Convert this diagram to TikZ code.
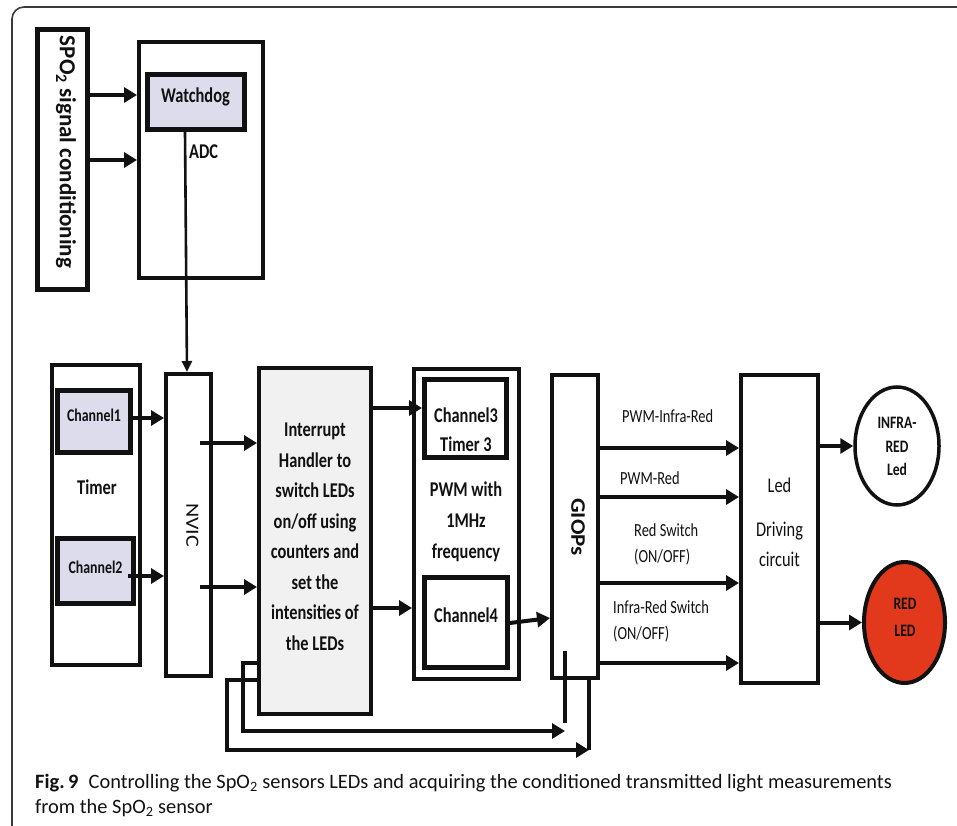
\documentclass[tikz,border=0pt]{standalone}
\usepackage{fontspec}
\setmainfont{Carlito}
\newfontfamily\dfont[FakeStretch=0.78]{Carlito}
\newfontfamily\rfont{Carlito}
\usetikzlibrary{arrows.meta,calc,shapes.geometric}
\definecolor{chanfill}{HTML}{DCDCEC}
\definecolor{handfill}{HTML}{F1F1F1}
\definecolor{ledred}{HTML}{E2391D}
\definecolor{framegray}{HTML}{3A3A3A}
\definecolor{ink}{HTML}{111111}

\begin{document}
\begin{tikzpicture}[x=1pt,y=-1pt,
  box/.style={draw=ink, line width=4pt, inner sep=0pt},
  heavy/.style={box, line width=5pt},
  arr/.style={draw=ink, line width=4pt, -{Triangle[length=13pt,width=15pt]}},
  thinarr/.style={draw=ink, line width=2.6pt, -{Triangle[length=11pt,width=10pt]}},
  wire/.style={draw=ink, line width=4pt},
  txt/.style={inner sep=0pt, text=ink},
  tb/.style={txt, font=\dfont\bfseries\fontsize{21}{30.5}\selectfont},
  tbs/.style={txt, font=\dfont\bfseries\fontsize{17.8}{24}\selectfont},
  tbled/.style={txt, font=\dfont\bfseries\fontsize{17.5}{23.5}\selectfont},
  tr/.style={txt, font=\dfont\fontsize{18.5}{26}\selectfont},
  trl/.style={txt, font=\dfont\fontsize{21}{30}\selectfont},
  rot/.style={txt, rotate=-90},
  captext/.style={inner sep=0pt, text=ink, font=\rfont\fontsize{20.4}{25}\selectfont}
]
\useasboundingbox (0,0) rectangle (957,826);

% outer frame of the figure panel
\draw[framegray, line width=1.6pt, rounded corners=12pt] (975,7) -- (12,7) -- (12,845);

% ---------- boxes ----------
\node[heavy, minimum width=50, minimum height=260] (spo) at (62.5,159.5) {};
\node[box, minimum width=124, minimum height=236] (adc) at (201,160) {};
\node[heavy, fill=chanfill, minimum width=97, minimum height=55] (wd) at (196,102) {};

\node[box, minimum width=88, minimum height=300] (timer) at (96,515) {};
\node[heavy, fill=chanfill, minimum width=73, minimum height=62] (ch1) at (94,421.5) {};
\node[heavy, fill=chanfill, minimum width=76, minimum height=65] (ch2) at (95.5,571) {};

\node[box, minimum width=45, minimum height=302] (nvic) at (188.5,525) {};
\node[box, fill=handfill, minimum width=112, minimum height=346] (ih) at (315,541) {};

\node[box, minimum width=105, minimum height=310] (pwm) at (466.5,524) {};
\node[heavy, minimum width=82, minimum height=78] (ch3) at (465.5,418.5) {};
\node[heavy, minimum width=83, minimum height=90] (ch4) at (466,622.5) {};

\node[box, minimum width=46, minimum height=303] (giops) at (575,526.5) {};
\node[box, minimum width=77, minimum height=308] (led) at (779.5,529) {};

\node[box, ellipse, line width=3.5pt, minimum width=84, minimum height=118] (ir) at (897,446) {};
\node[box, ellipse, line width=4pt, fill=ledred, minimum width=81, minimum height=121] (red) at (904.5,622.5) {};

% ---------- texts ----------
\node[rot, font=\rfont\bfseries\fontsize{23}{28}\selectfont] (spo-t) at (66,152)
  {SPO\textsubscript{2} signal conditioning};
\node[tb, anchor=base] (wd-t) at (195.5,103) {Watchdog};
\node[tb, anchor=base west] (adc-t) at (189,159) {ADC};
\node[tb, anchor=base] (timer-t) at (97,494) {Timer};
\node[tbs, anchor=base] (ch1-t) at (94,421) {Channel1};
\node[tbs, anchor=base] (ch2-t) at (95.5,573) {Channel2};
\node[rot, font=\rfont\fontsize{22}{26}\selectfont] (nvic-t) at (192.5,525)
  {\scalebox{1}[0.85]{NVIC}};
\node[tb, anchor=north, align=center] (ih-t) at (315,423)
  {Interrupt\\Handler to\\switch LEDs\\on/off using\\counters and\\set the\\intensities of\\the LEDs};
\node[tb, anchor=north, align=center, font=\dfont\bfseries\fontsize{21}{29}\selectfont] (ch3-t) at (466,408)
  {Channel3\\Timer 3};
\node[tb, anchor=north, align=center, font=\dfont\bfseries\fontsize{21}{31}\selectfont] (pwm-t) at (466,482)
  {PWM with\\1MHz\\frequency};
\node[tb, anchor=base] (ch4-t) at (466,622) {Channel4};
\node[rot, font=\rfont\bfseries\fontsize{23}{28}\selectfont] (giops-t) at (578,527)
  {\scalebox{1}[0.9]{GIOPs}};

\node[tr, anchor=base west] (l1) at (622,422) {PWM-Infra-Red};
\node[tr, anchor=base west] (l2) at (620,484) {PWM-Red};
\node[tr, anchor=north west, align=left] (l3) at (634,523) {Red Switch\\(ON/OFF)};
\node[tr, anchor=north west, align=left] (l4) at (613,600) {Infra-Red Switch\\(ON/OFF)};
\node[trl, anchor=north, align=center] (led-t) at (779.5,478) {Led\\[14pt]Driving\\circuit};
\node[tbled, anchor=north, align=center] (ir-t) at (897,417) {INFRA-\\RED\\Led};
\node[tbled, anchor=north, align=center, font=\dfont\bfseries\fontsize{17.5}{27}\selectfont] (red-t) at (905,598) {RED\\LED};

% ---------- connectors ----------
\draw[arr] (spo.east |- 0,95) -- (adc.west |- 0,95);
\draw[arr] (spo.east |- 0,160) -- (adc.west |- 0,160);
\draw[thinarr] ([xshift=-11pt]wd.south) -- ([xshift=-1.5pt]nvic.north);

\draw[arr] (ch1.east |- 0,418) ++(-5,0) -- (nvic.west |- 0,418);
\draw[arr] (ch2.east |- 0,576) ++(-8,0) -- (nvic.west |- 0,576);
\draw[arr] (nvic.east |- 0,443) ++(-13,0) -- (ih.west |- 0,443);
\draw[arr] (nvic.east |- 0,587) ++(-13,0) -- (ih.west |- 0,587);

\draw[arr] (ih.east |- 0,408) -- (ch3.west |- 0,408);
\draw[arr] (ih.east |- 0,608) -- (pwm.west |- 0,608);
\draw[arr] (ch4.east |- 0,623) -- (giops.west |- 0,618);

\draw[arr] (giops.east |- 0,448) -- (led.west |- 0,448);
\draw[arr] (giops.east |- 0,497) -- (led.west |- 0,497);
\draw[arr] (giops.east |- 0,583) -- (led.west |- 0,583);
\draw[arr] (giops.east |- 0,663) -- (led.west |- 0,663);

\draw[arr] (led.east |- ir.west) -- (ir.west);
\draw[arr] (led.east |- red.west) -- (red.west);

% feedback loops under the handler
\coordinate (j1) at (565,731);
\coordinate (j2) at (589,750);
\draw[arr] (ih.west |- 0,663) -- ++(-14,0) |- (j1);
\draw[wire] ($(giops.south -| j1)+(0,-29)$) -- ($(j1)+(0,-8)$);
\draw[arr] (ih.west |- 0,680) -- ++(-30,0) |- (j2);
\draw[wire] (giops.south -| j2) -- (j2);

% ---------- caption ----------
\node[captext, anchor=base west] (cap1) at (35,788)
  {\textbf{Fig.\,9}\hspace{0.5em}Controlling the SpO\textsubscript{2} sensors LEDs and acquiring the conditioned transmitted light measurements};
\node[captext, anchor=base west] (cap2) at (35,813) {from the SpO\textsubscript{2} sensor};
\end{tikzpicture}
\end{document}
